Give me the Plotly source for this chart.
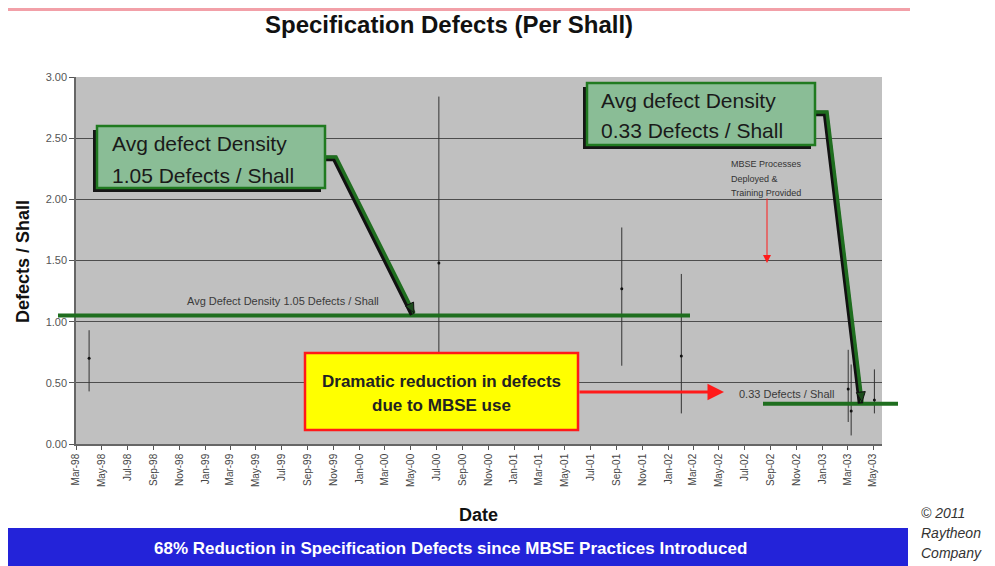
import plotly.graph_objects as go
from datetime import datetime

# ---------------- data ----------------
sample_dates = ["1998-04-01", "2000-07-07", "2001-09-13", "2002-02-01",
                "2003-03-03", "2003-03-10", "2003-05-04"]
density = [0.70, 1.48, 1.27, 0.72, 0.45, 0.27, 0.36]
density_high = [0.93, 2.84, 1.77, 1.39, 0.77, 0.65, 0.61]
density_low = [0.43, 0.60, 0.64, 0.25, 0.18, 0.07, 0.25]

tick_labels = ["Mar-98", "May-98", "Jul-98", "Sep-98", "Nov-98",
               "Jan-99", "Mar-99", "May-99", "Jul-99", "Sep-99", "Nov-99",
               "Jan-00", "Mar-00", "May-00", "Jul-00", "Sep-00", "Nov-00",
               "Jan-01", "Mar-01", "May-01", "Jul-01", "Sep-01", "Nov-01",
               "Jan-02", "Mar-02", "May-02", "Jul-02", "Sep-02", "Nov-02",
               "Jan-03", "Mar-03", "May-03"]
y_ticks = [0.0, 0.5, 1.0, 1.5, 2.0, 2.5, 3.0]
y_tick_labels = ["0.00", "0.50", "1.00", "1.50", "2.00", "2.50", "3.00"]

avg_before = 1.05
avg_after = 0.33

# ---------------- layout helpers ----------------
# the page body adds an 8px offset, so the figure is drawn 8px smaller
OFF = 8
W, H = 995 - OFF, 566 - OFF
PLOT_L, PLOT_T, PLOT_R, PLOT_B = 76, 77, 882, 444   # in window pixels
L, T = PLOT_L - OFF, PLOT_T - OFF
R, B = W - (PLOT_R - OFF), H - (PLOT_B - OFF)
PW, PH = PLOT_R - PLOT_L, PLOT_B - PLOT_T
Y_MAX = 3.0


def px(x):
    return (x - PLOT_L) / PW


def py(y):
    return (PLOT_B - y) / PH


def vy(v):
    return v / Y_MAX


FONT = "Liberation Sans, Arial, sans-serif"
GREEN_DARK = "#1f6e1f"
BOX_FILL = "#8abd96"

tick_vals = [datetime.strptime(t, "%b-%y") for t in tick_labels]

fig = go.Figure()
fig.add_trace(go.Scatter(
    x=sample_dates, y=density, mode="markers",
    marker=dict(size=3, color="#111"),
    error_y=dict(type="data", symmetric=False,
                 array=[h - c for h, c in zip(density_high, density)],
                 arrayminus=[c - l for c, l in zip(density, density_low)],
                 thickness=1, width=0, color="#333"),
    hoverinfo="skip", showlegend=False,
))

shapes = []
annotations = []

# pink rule at top
shapes.append(dict(type="line", xref="paper", yref="paper",
                   x0=px(0), x1=px(910), y0=py(9.5), y1=py(9.5),
                   line=dict(color="#f2a0a8", width=3)))

# average lines
shapes.append(dict(type="line", xref="paper", yref="paper",
                   x0=px(58), x1=px(690), y0=vy(avg_before), y1=vy(avg_before),
                   line=dict(color=GREEN_DARK, width=4)))
shapes.append(dict(type="line", xref="paper", yref="paper",
                   x0=px(763), x1=px(898), y0=vy(avg_after), y1=vy(avg_after),
                   line=dict(color=GREEN_DARK, width=4)))


def path(points):
    return "M " + " L ".join(f"{px(a):.5f},{py(b):.5f}" for a, b in points)


def head(tip, tail, length=10, half=4.5):
    dx, dy = tip[0] - tail[0], tip[1] - tail[1]
    n = (dx * dx + dy * dy) ** 0.5
    ux, uy = dx / n, dy / n
    bx, by = tip[0] - ux * length, tip[1] - uy * length
    p1 = (bx + uy * half, by - ux * half)
    p2 = (bx - uy * half, by + ux * half)
    return path([tip, p1, p2]) + " Z"


def connector(points):
    shifted = [(a - 1.5, b + 1.5) for a, b in points]
    shapes.append(dict(type="path", xref="paper", yref="paper", path=path(shifted),
                       line=dict(color="#111", width=5.5)))
    shapes.append(dict(type="path", xref="paper", yref="paper", path=path(points),
                       line=dict(color=GREEN_DARK, width=3.5)))
    shapes.append(dict(type="path", xref="paper", yref="paper",
                       path=head(points[-1], points[-2]),
                       fillcolor="#1d4d1d", line=dict(color="#111", width=1)))


def green_box(x0, y0, x1, y1):
    shapes.append(dict(type="rect", xref="paper", yref="paper",
                       x0=px(x0 - 4), x1=px(x1 - 4), y0=py(y0 + 4), y1=py(y1 + 4),
                       fillcolor="#151515", line=dict(width=0)))
    shapes.append(dict(type="rect", xref="paper", yref="paper",
                       x0=px(x0), x1=px(x1), y0=py(y0), y1=py(y1),
                       fillcolor=BOX_FILL, line=dict(color="#207a20", width=2.5)))


# box 1 + connector
connector([(325, 157), (336, 157), (414, 313)])
green_box(97, 126, 325, 188)
# box 2 + connector
connector([(815, 112), (827, 112), (862, 402)])
green_box(587, 83, 815, 145)

# yellow box
shapes.append(dict(type="rect", xref="paper", yref="paper",
                   x0=px(305), x1=px(578), y0=py(353), y1=py(430),
                   fillcolor="#ffff00", line=dict(color="#ff1a1a", width=2.5)))

# blue banner
shapes.append(dict(type="rect", xref="paper", yref="paper",
                   x0=px(5), x1=px(908), y0=py(528), y1=py(568),
                   fillcolor="#2323d9", line=dict(width=0)))


def text(x, y, s, size, color="#111", bold=False, italic=False, xanchor="center",
         family=FONT):
    if bold:
        s = f"<b>{s}</b>"
    if italic:
        s = f"<i>{s}</i>"
    annotations.append(dict(xref="paper", yref="paper", x=px(x), y=py(y), text=s,
                            showarrow=False, xanchor=xanchor, yanchor="middle",
                            font=dict(family=family, size=size, color=color)))


text(449, 25, "Specification Defects (Per Shall)", 24, "#111", bold=True)
text(478, 515, "Date", 18, "#111", bold=True)
annotations.append(dict(xref="paper", yref="paper", x=px(23), y=py(262),
                        text="<b>Defects / Shall</b>", textangle=-90, showarrow=False,
                        xanchor="center", yanchor="middle",
                        font=dict(family=FONT, size=18, color="#111")))

text(110, 143, "Avg defect Density", 21, "#1a1a1a", xanchor="left")
text(110, 175, "1.05 Defects / Shall", 21, "#1a1a1a", xanchor="left")
text(599, 100, "Avg defect Density", 21, "#1a1a1a", xanchor="left")
text(599, 131, "0.33 Defects / Shall", 21, "#1a1a1a", xanchor="left")

text(283, 301, "Avg Defect Density 1.05 Defects / Shall", 11, "#3a3a3a")
text(737, 394, "0.33 Defects / Shall", 11, "#3a3a3a", xanchor="left")

text(729, 164, "MBSE Processes", 9, "#333", xanchor="left")
text(729, 179, "Deployed &", 9, "#333", xanchor="left")
text(729, 193, "Training Provided", 9, "#333", xanchor="left")

text(441, 381, "Dramatic reduction in defects", 17, "#222", bold=True)
text(441, 405, "due to MBSE use", 17, "#222", bold=True)

text(450, 548, "68% Reduction in Specification Defects since MBSE Practices Introduced",
     17, "#ffffff", bold=True)

text(919, 513, "© 2011", 14, "#333", italic=True, xanchor="left")
text(919, 533, "Raytheon", 14, "#333", italic=True, xanchor="left")
text(919, 553, "Company", 14, "#333", italic=True, xanchor="left")

# red arrows
annotations.append(dict(xref="paper", yref="paper", x=px(724), y=py(392),
                        ax=-146, ay=0, text="", showarrow=True,
                        arrowhead=2, arrowsize=1.1, arrowwidth=3, arrowcolor="#ff1a1a"))
annotations.append(dict(xref="paper", yref="paper", x=px(767), y=py(263),
                        ax=0, ay=-66, text="", showarrow=True,
                        arrowhead=2, arrowsize=1.6, arrowwidth=1, arrowcolor="#ff1a1a"))

fig.update_layout(
    width=W, height=H,
    margin=dict(l=L, r=R, t=T, b=B, autoexpand=False),
    paper_bgcolor="#ffffff", plot_bgcolor="#c0c0c0",
    shapes=shapes, annotations=annotations,
    hovermode=False, showlegend=False,
    font=dict(family=FONT),
)
fig.update_xaxes(
    type="date", range=["1998-03-01", "2003-05-22"],
    tickvals=tick_vals, ticktext=tick_labels, tickangle=-90,
    tickfont=dict(size=10, color="#444", family=FONT),
    ticks="outside", ticklen=4, tickcolor="#555",
    showgrid=False, showline=True, linecolor="#666", linewidth=1.5,
    zeroline=False, fixedrange=True,
)
fig.update_yaxes(
    range=[0, Y_MAX], tickvals=y_ticks, ticktext=y_tick_labels,
    tickfont=dict(size=11, color="#555", family=FONT),
    ticks="outside", ticklen=5, tickcolor="#555",
    showgrid=True, gridcolor="#4d4d4d", gridwidth=1,
    showline=True, linecolor="#666", linewidth=1.5,
    zeroline=False, fixedrange=True,
)

fig.write_html("out.html", config={"displayModeBar": False})
